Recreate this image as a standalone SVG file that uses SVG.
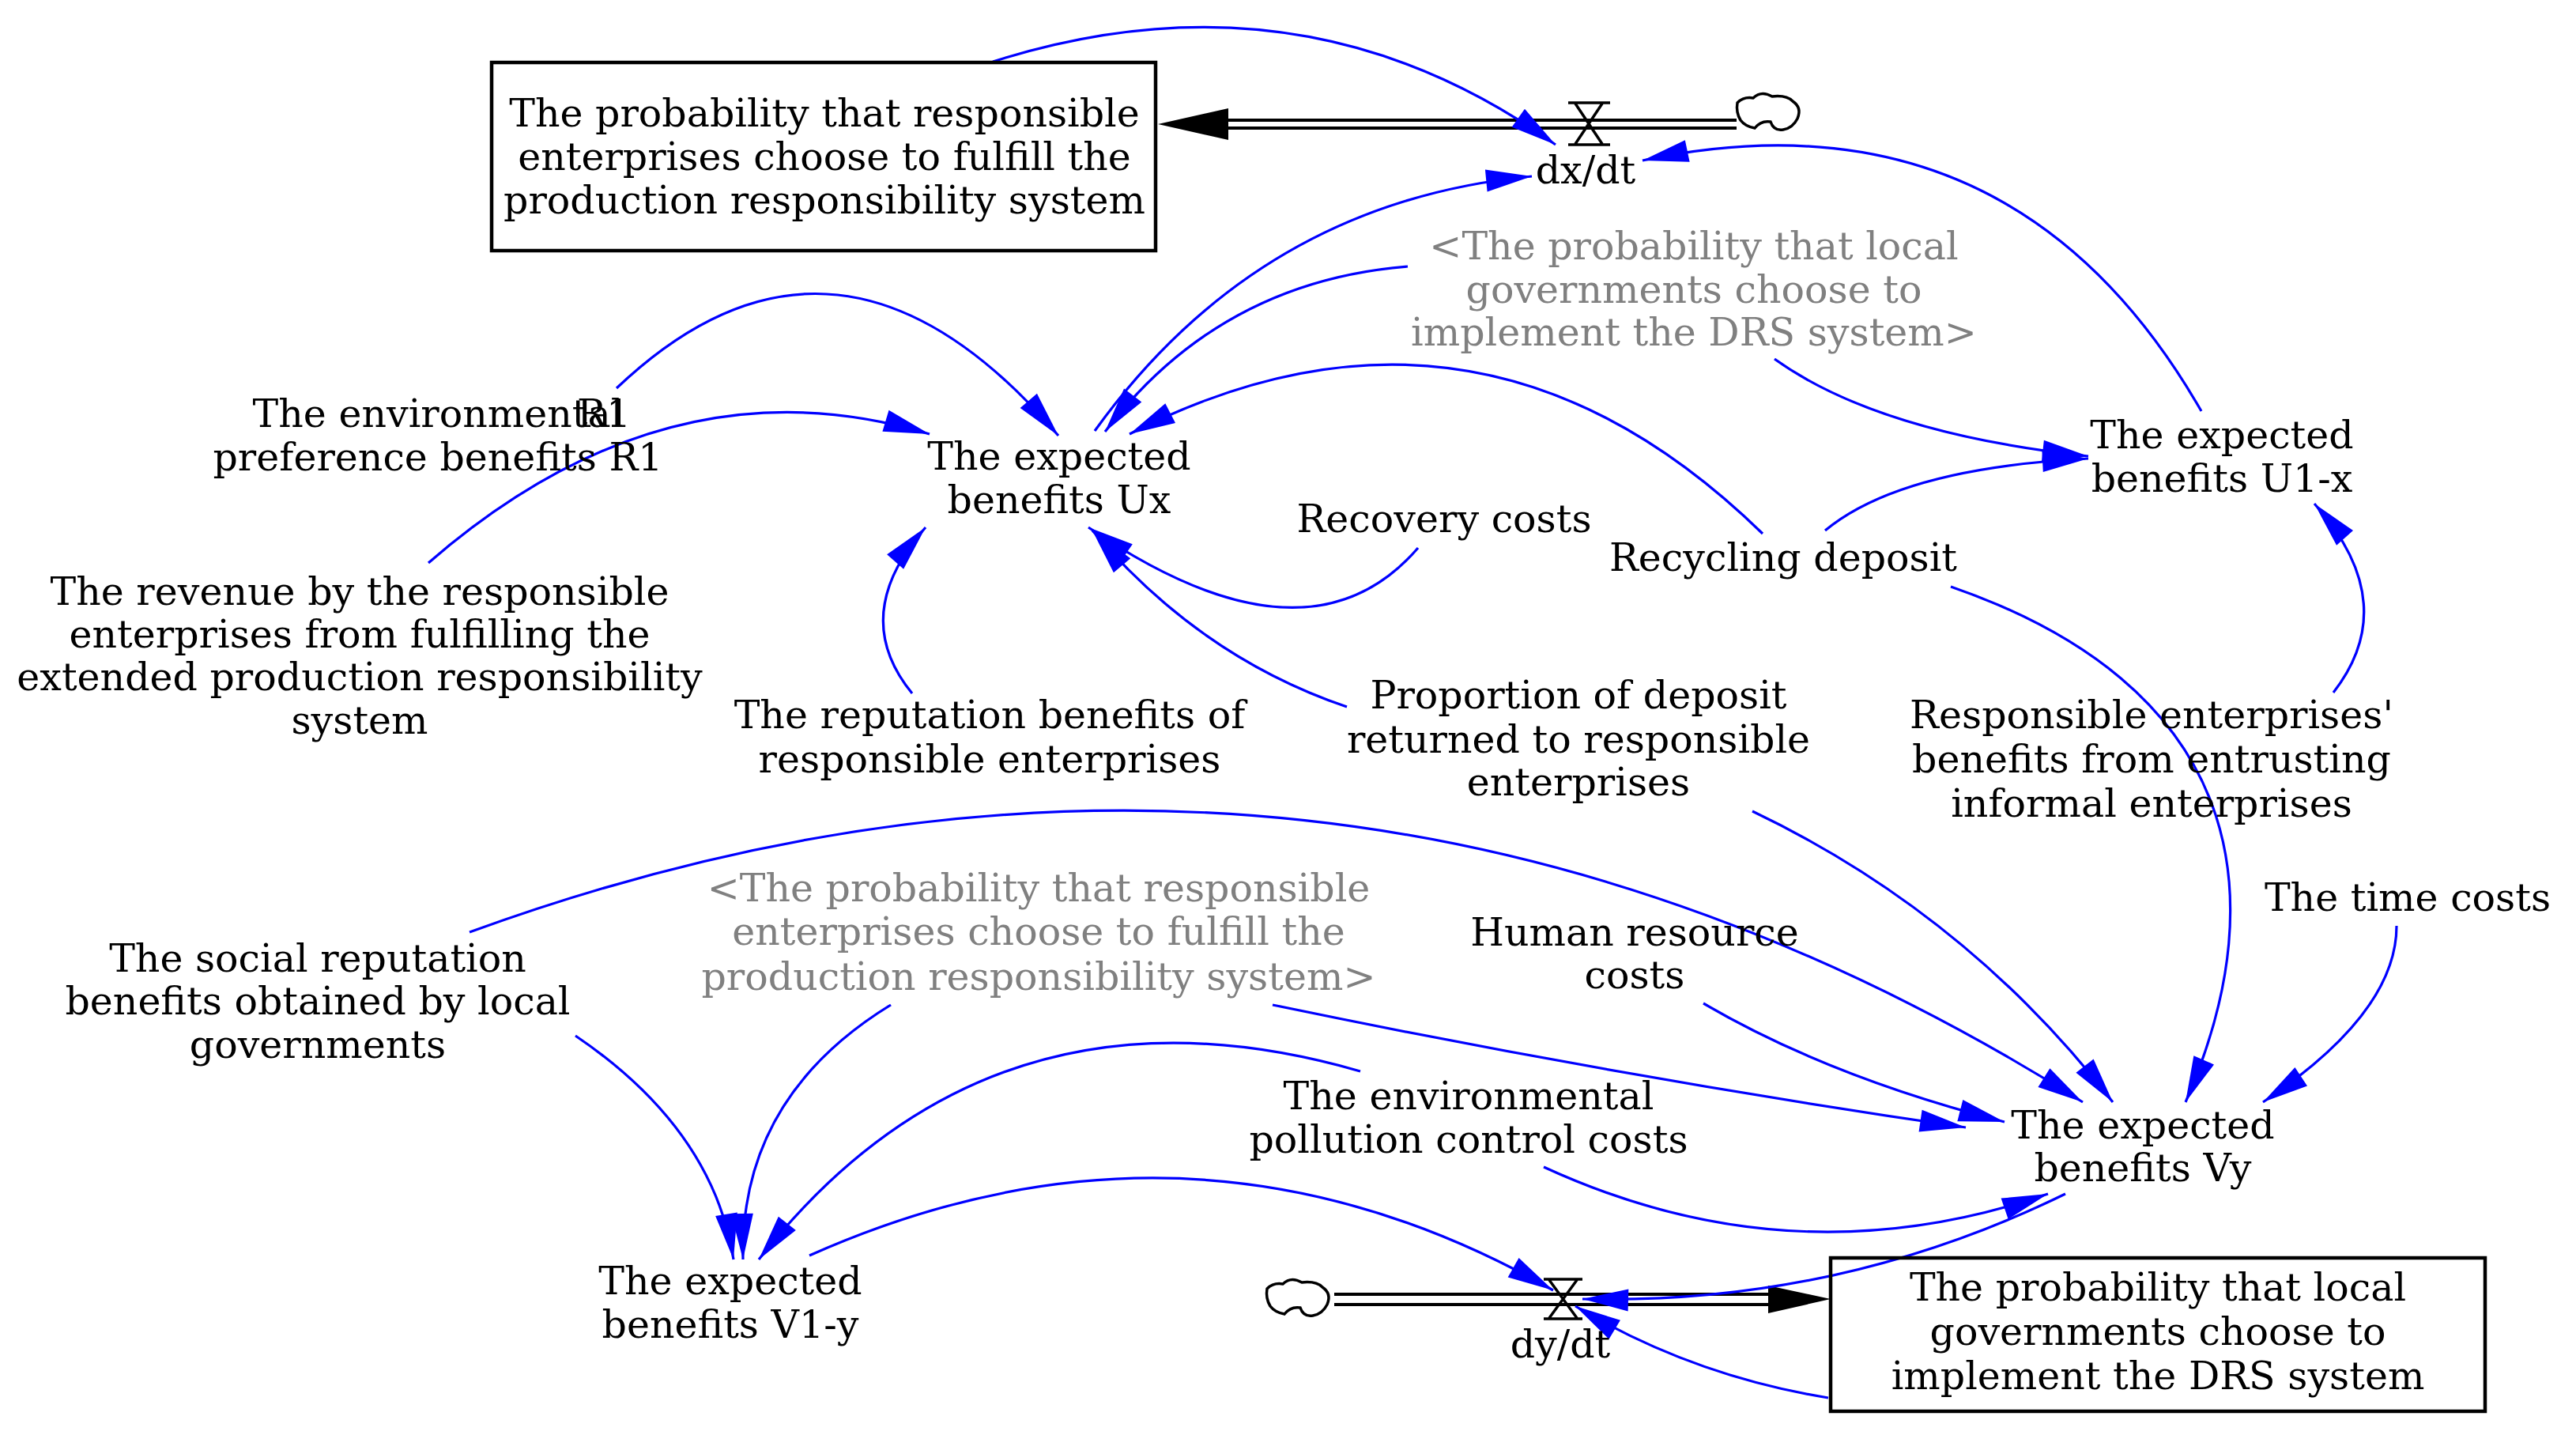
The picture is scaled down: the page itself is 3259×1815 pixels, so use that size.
<svg xmlns="http://www.w3.org/2000/svg" width="3259" height="1815" viewBox="0 0 3259 1815">
<style>
text{font-family:"DejaVu Serif","Liberation Serif",serif;font-size:49px;fill:#000;text-anchor:middle}
text.g{fill:#808080}
text.s{text-anchor:start}
.c{fill:none;stroke:#0000FF;stroke-width:3.2;marker-end:url(#a)}
.box{fill:none;stroke:#000;stroke-width:4.5}
.pipe{stroke:#000;stroke-width:4;fill:none}
.valve{stroke:#000;stroke-width:3.5;fill:none}
.cloud{fill:#fff;stroke:#000;stroke-width:3.5}
</style>
<defs>
<marker id="a" viewBox="-60 -16 62 32" refX="0" refY="0" markerWidth="62" markerHeight="32" markerUnits="userSpaceOnUse" orient="auto"><path d="M0,0 L-58,-14 L-58,14 Z" fill="#0000FF"/></marker>
<path id="cl" d="M0,12 Q8,4 20,6 Q30,-4 44,4 Q62,2 70,10 Q82,18 76,32 Q70,44 58,46 Q46,48 42,36 Q30,34 22,44 Q10,42 4,34 Q-2,24 0,12 Z"/>
</defs>
<rect width="3259" height="1815" fill="#fff"/>

<g id="flows">
<path class="pipe" d="M1554,152 H2197 M1554,162 H2197"/>
<polygon points="1465,157 1554,137 1554,177" fill="#000"/>
<path class="pipe" d="M1688,1637 H2240 M1688,1650 H2240"/>
<polygon points="2316,1643 2237,1626 2237,1661" fill="#000"/>
</g>

<g id="connectors">
<path class="c" d="M1256,78 Q1648,-46 1968,183"/>
<path class="c" d="M2785,520 Q2546,104 2078,203"/>
<path class="c" d="M1385,545 Q1593,256 1938,223"/>
<path class="c" d="M1781,337 Q1543,356 1398,546"/>
<path class="c" d="M2230,675 Q1870,324 1429,549"/>
<path class="c" d="M780,491 Q1060,225 1339,551"/>
<path class="c" d="M542,712 Q845,449 1176,549"/>
<path class="c" d="M1154,877 Q1073,778 1171,667"/>
<path class="c" d="M1794,693 Q1654,856 1377,667"/>
<path class="c" d="M1704,894 Q1518,831 1382,671"/>
<path class="c" d="M2245,454 Q2376,548 2642,577"/>
<path class="c" d="M2309,671 Q2404,592 2642,580"/>
<path class="c" d="M2952,876 Q3040,763 2928,637"/>
<path class="c" d="M2468,742 C2827,866 2885,1119 2765,1394"/>
<path class="c" d="M594,1179 Q1671,787 2635,1394"/>
<path class="c" d="M2217,1026 Q2489,1156 2673,1394"/>
<path class="c" d="M3032,1171 Q3032,1281 2863,1394"/>
<path class="c" d="M2155,1269 Q2314,1362 2536,1419"/>
<path class="c" d="M1610,1271 Q2048,1362 2487,1426"/>
<path class="c" d="M1953,1476 Q2268,1621 2591,1510"/>
<path class="c" d="M2613,1510 Q2324,1651 2002,1643"/>
<path class="c" d="M2313,1768 Q2140,1740 1993,1652"/>
<path class="c" d="M1024,1588 Q1509,1372 1965,1632"/>
<path class="c" d="M1721,1355 Q1253,1220 960,1593"/>
<path class="c" d="M728,1310 Q902,1428 928,1593"/>
<path class="c" d="M1127,1271 Q936,1388 940,1593"/>
</g>

<g id="stock-x">
<rect class="box" x="622" y="79" width="840" height="238"/>
<text x="1043" y="160">The probability that responsible</text>
<text x="1043" y="215">enterprises choose to fulfill the</text>
<text x="1043" y="270">production responsibility system</text>
</g>
<g id="cloud-x"><use href="#cl" class="cloud" x="2198" y="118"/></g>
<g id="flow-dxdt">
<path class="valve" d="M1984,130 H2037 M1984,183 H2037 M1993,131 L2027,182 M2027,131 L1993,182"/>
<text x="2006" y="232">dx/dt</text>
</g>

<g id="stock-y">
<rect class="box" x="2316" y="1591" width="828" height="194"/>
<text x="2730" y="1645">The probability that local</text>
<text x="2730" y="1701">governments choose to</text>
<text x="2730" y="1757">implement the DRS system</text>
</g>
<g id="cloud-y"><use href="#cl" class="cloud" x="1603" y="1618"/></g>
<g id="flow-dydt">
<path class="valve" d="M1953,1618 H2002 M1953,1668 H2002 M1960,1619 L1995,1667 M1995,1619 L1960,1667"/>
<text x="1974" y="1717">dy/dt</text>
</g>

<g id="shadow-y">
<text class="g" x="2143" y="328">&lt;The probability that local</text>
<text class="g" x="2143" y="383">governments choose to</text>
<text class="g" x="2143" y="437">implement the DRS system&gt;</text>
</g>
<g id="U1x">
<text x="2811" y="567">The expected</text>
<text x="2811" y="622">benefits U1-x</text>
</g>
<g id="R1pref">
<text x="554" y="540">The environmental</text>
<text x="554" y="595">preference benefits R1</text>
</g>
<g id="loopR1"><text class="s" x="730" y="540">R1</text></g>
<g id="Ux">
<text x="1340" y="594">The expected</text>
<text x="1340" y="649">benefits Ux</text>
</g>
<g id="recovery"><text x="1827" y="673">Recovery costs</text></g>
<g id="deposit"><text x="2256" y="722">Recycling deposit</text></g>
<g id="revenue">
<text x="455" y="765">The revenue by the responsible</text>
<text x="455" y="819">enterprises from fulfilling the</text>
<text x="455" y="873">extended production responsibility</text>
<text x="455" y="928">system</text>
</g>
<g id="reputation">
<text x="1252" y="921">The reputation benefits of</text>
<text x="1252" y="977">responsible enterprises</text>
</g>
<g id="proportion">
<text x="1997" y="896">Proportion of deposit</text>
<text x="1997" y="952">returned to responsible</text>
<text x="1997" y="1006">enterprises</text>
</g>
<g id="entrusting">
<text x="2722" y="921">Responsible enterprises'</text>
<text x="2722" y="977">benefits from entrusting</text>
<text x="2722" y="1033">informal enterprises</text>
</g>
<g id="time"><text x="3046" y="1152">The time costs</text></g>
<g id="shadow-x">
<text class="g" x="1314" y="1140">&lt;The probability that responsible</text>
<text class="g" x="1314" y="1195">enterprises choose to fulfill the</text>
<text class="g" x="1314" y="1252">production responsibility system&gt;</text>
</g>
<g id="human">
<text x="2068" y="1196">Human resource</text>
<text x="2068" y="1250">costs</text>
</g>
<g id="social">
<text x="402" y="1229">The social reputation</text>
<text x="402" y="1283">benefits obtained by local</text>
<text x="402" y="1338">governments</text>
</g>
<g id="pollution">
<text x="1858" y="1403">The environmental</text>
<text x="1858" y="1458">pollution control costs</text>
</g>
<g id="Vy">
<text x="2711" y="1440">The expected</text>
<text x="2711" y="1494">benefits Vy</text>
</g>
<g id="V1y">
<text x="924" y="1637">The expected</text>
<text x="924" y="1692">benefits V1-y</text>
</g>
</svg>
